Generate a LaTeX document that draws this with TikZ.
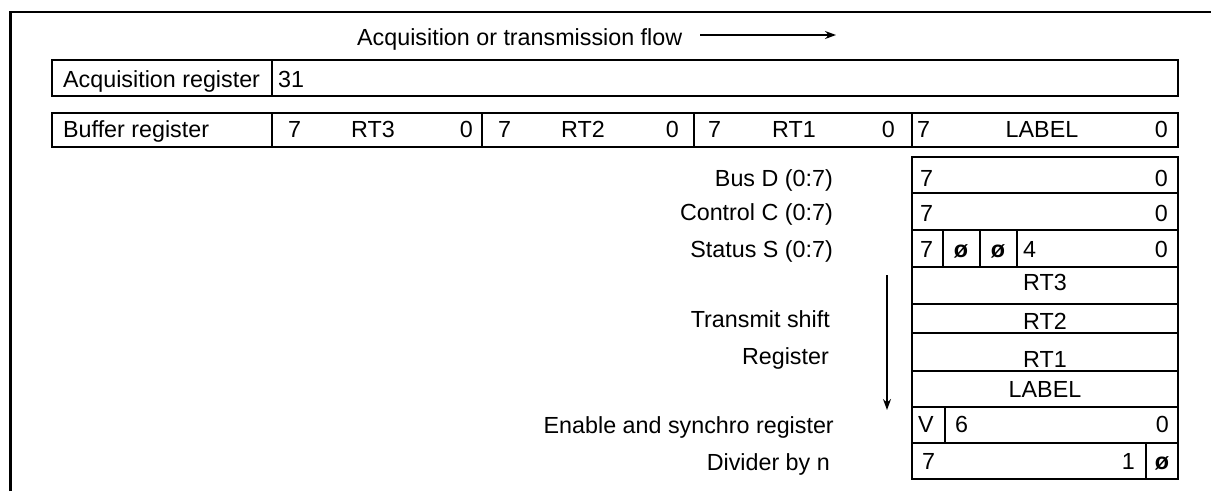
\documentclass[tikz,border=0pt]{standalone}
\usepackage{fontspec}
\setmainfont{Liberation Sans}
\usetikzlibrary{arrows.meta}
\begin{document}
\begin{tikzpicture}[x=1pt,y=-1pt,
  box/.style={draw, line width=2pt},
  txt/.style={inner sep=0pt, font=\fontsize{23.3}{28}\selectfont},
  lt/.style={txt, anchor=base west},
  rt/.style={txt, anchor=base east},
  ct/.style={txt, anchor=base},
  arr/.style={line width=1.3pt, -{Stealth[length=11pt,width=8pt]}}
]
\useasboundingbox (0,0) rectangle (1211,491);
% frame
\draw[line width=2.5pt] (10.5,491) -- (10.5,12) -- (1211,12);
% title
\node[lt] (title) at (357,45) {Acquisition or transmission flow};
\coordinate (flowstart) at (700,35);
\coordinate (flowend) at (836,35);
\draw[arr] (flowstart) -- (flowend);
% acquisition register
\draw[box] (52,60) rectangle (1178,96);
\draw[box] (272,60) -- (272,96);
\node[lt] (acq) at (63,87) {Acquisition register};
\node[lt] (a31) at (278,87) {31};
% buffer register
\draw[box] (52,113) rectangle (1178,147);
\foreach \x in {272,482,694,912} \draw[box] (\x,113) -- (\x,147);
\node[lt] (buf) at (63,137) {Buffer register};
\node[lt] (b7a) at (288,137) {7};
\node[ct] (brt3) at (373,137) {RT3};
\node[rt] (b0a) at (473,137) {0};
\node[lt] (b7b) at (498,137) {7};
\node[ct] (brt2) at (583,137) {RT2};
\node[rt] (b0b) at (679,137) {0};
\node[lt] (b7c) at (708,137) {7};
\node[ct] (brt1) at (794,137) {RT1};
\node[rt] (b0c) at (895,137) {0};
\node[lt] (b7d) at (917,137) {7};
\node[ct] (blab) at (1042,137) {LABEL};
\node[rt] (b0d) at (1168,137) {0};
% right panel
\draw[box] (912,157) rectangle (1178,479);
\foreach \y in {193,230,267,304,333,371,407,443} \draw[box] (912,\y) -- (1178,\y);
\foreach \x in {943,980,1017} \draw[box] (\x,230) -- (\x,267);
\draw[box] (945,407) -- (945,443);
\draw[box] (1146,443) -- (1146,479);
\node[lt] (d7) at (920,186) {7};
\node[rt] (d0) at (1168,186) {0};
\node[lt] (c7) at (920,221) {7};
\node[rt] (c0) at (1168,221) {0};
\node[lt] (s7) at (920,257) {7};
\node[ct] (s6) at (961,257) {\textbf{ø}};
\node[ct] (s5) at (998,257) {\textbf{ø}};
\node[lt] (s4) at (1023,257) {4};
\node[rt] (s0) at (1168,257) {0};
\node[ct] (r3) at (1045,290) {RT3};
\node[ct] (r2) at (1045,329) {RT2};
\node[ct] (r1) at (1045,367) {RT1};
\node[ct] (rl) at (1045,397) {LABEL};
\node[ct] (ev) at (926,432) {V};
\node[lt] (e6) at (955,432) {6};
\node[rt] (e0) at (1169,432) {0};
\node[lt] (n7) at (922,469) {7};
\node[rt] (n1) at (1135,469) {1};
\node[ct] (n0) at (1162,469) {\textbf{ø}};
% left labels
\node[rt] (lbus) at (833,186) {Bus D (0:7)};
\node[rt] (lctl) at (833,220) {Control C (0:7)};
\node[rt] (lsta) at (833,257) {Status S (0:7)};
\node[rt] (ltr) at (830,327) {Transmit shift};
\node[rt] (lreg) at (829,364) {Register};
\node[rt] (len) at (834,433) {Enable and synchro register};
\node[rt] (ldiv) at (830,470) {Divider by n};
% shift arrow
\coordinate (shtop) at (887,275);
\coordinate (shbot) at (887,410);
\draw[arr] (shtop) -- (shbot);
\end{tikzpicture}
\end{document}
